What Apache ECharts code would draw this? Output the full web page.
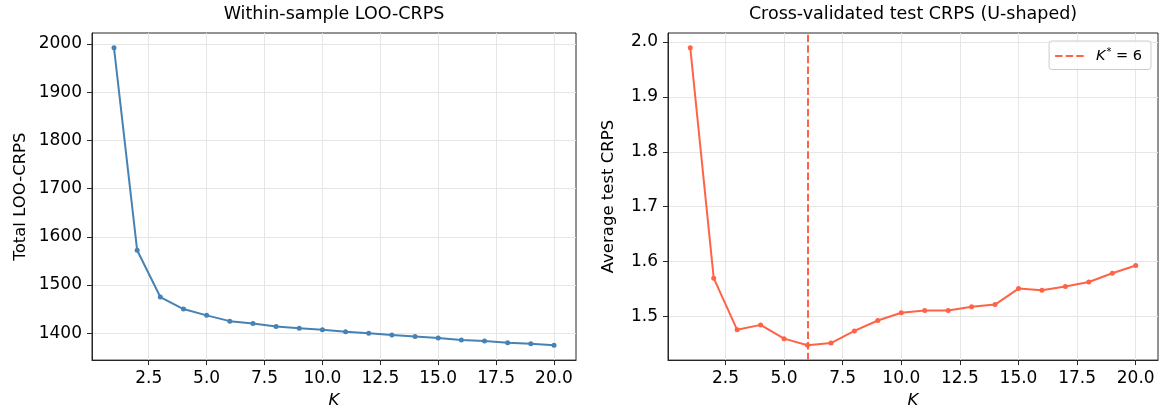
<!DOCTYPE html>
<html>
<head>
<meta charset="utf-8">
<script src="https://cdn.jsdelivr.net/npm/echarts@6/dist/echarts.min.js"></script>
<style>
  html, body { margin: 0; padding: 0; background: #fff; }
  #chart { width: 1161px; height: 414px; }
</style>
</head>
<body>
<div id="chart"></div>
<script>
// Number of components K
const kValues = [1, 2, 3, 4, 5, 6, 7, 8, 9, 10, 11, 12, 13, 14, 15, 16, 17, 18, 19, 20];
// Total leave-one-out CRPS on the training sample
const looCrps = [1992, 1572, 1475, 1450, 1437, 1425, 1420, 1414, 1410, 1407,
                 1403, 1400, 1396, 1393, 1390, 1386, 1384, 1380, 1378, 1375];
// Average cross-validated test CRPS
const testCrps = [1.989, 1.570, 1.476, 1.485, 1.460, 1.448, 1.452, 1.474, 1.493, 1.507,
                  1.511, 1.511, 1.518, 1.522, 1.551, 1.548, 1.555, 1.563, 1.579, 1.593];
// Selected K (minimum of the test CRPS)
const kStar = 6;

// Tick positions
const kTicks = [2.5, 5.0, 7.5, 10.0, 12.5, 15.0, 17.5, 20.0];
const looTicks = [1400, 1500, 1600, 1700, 1800, 1900, 2000];
const testTicks = [1.5, 1.6, 1.7, 1.8, 1.9, 2.0];

const FONT = 'DejaVu Sans';
const BLUE = '#4682B4';
const RED = '#FF6347';
const SPINE = '#262626';
const GRIDLINE = '#e6e6e6';
const TICK_FONT = 17;

// Axis limits padded by 5% of the data span on each side
function padded(values) {
  const lo = Math.min(...values), hi = Math.max(...values);
  const pad = (hi - lo) * 0.05;
  return [lo - pad, hi + pad];
}
const kRange = padded(kValues);
const looRange = padded(looCrps);
const testRange = padded(testCrps);

function xAxisFor(gridIndex) {
  return {
    type: 'value',
    gridIndex: gridIndex,
    min: kRange[0],
    max: kRange[1],
    name: 'K',
    nameLocation: 'middle',
    nameGap: 29,
    nameTextStyle: { fontFamily: FONT, fontSize: 16.5, fontStyle: 'italic', color: '#000' },
    axisLine: { show: true, onZero: false, lineStyle: { color: SPINE, width: 1 } },
    axisTick: { show: true, length: 5, lineStyle: { color: SPINE }, customValues: kTicks },
    axisLabel: {
      customValues: kTicks,
      margin: 10,
      fontFamily: FONT, fontSize: TICK_FONT, color: '#000',
      formatter: v => Number(v).toFixed(1)
    },
    splitLine: { show: true, lineStyle: { color: GRIDLINE, width: 1 } }
  };
}

function yAxisFor(gridIndex, range, ticks, name, gap, digits) {
  return {
    type: 'value',
    gridIndex: gridIndex,
    min: range[0],
    max: range[1],
    name: name,
    nameLocation: 'middle',
    nameGap: gap,
    nameTextStyle: { fontFamily: FONT, fontSize: 16.5, color: '#000' },
    axisLine: { show: true, onZero: false, lineStyle: { color: SPINE, width: 1 } },
    axisTick: { show: true, length: 5, lineStyle: { color: SPINE }, customValues: ticks },
    axisLabel: {
      customValues: ticks,
      margin: 10,
      fontFamily: FONT, fontSize: TICK_FONT, color: '#000',
      formatter: v => Number(v).toFixed(digits)
    },
    splitLine: { show: true, lineStyle: { color: GRIDLINE, width: 1 } }
  };
}

const chart = echarts.init(document.getElementById('chart'), null, { renderer: 'canvas' });

chart.setOption({
  animation: false,
  backgroundColor: '#fff',
  title: [
    {
      text: 'Within-sample LOO-CRPS',
      left: 334, top: 5, textAlign: 'center', padding: 0,
      textStyle: { fontFamily: FONT, fontSize: 17.5, fontWeight: 'normal', color: '#000' }
    },
    {
      text: 'Cross-validated test CRPS (U-shaped)',
      left: 913, top: 5, textAlign: 'center', padding: 0,
      textStyle: { fontFamily: FONT, fontSize: 17.5, fontWeight: 'normal', color: '#000' }
    }
  ],
  grid: [
    { left: 92, top: 33, width: 484, height: 334, show: true, borderColor: SPINE, borderWidth: 1, backgroundColor: 'transparent' },
    { left: 668, top: 33, width: 490, height: 334, show: true, borderColor: SPINE, borderWidth: 1, backgroundColor: 'transparent' }
  ],
  xAxis: [xAxisFor(0), xAxisFor(1)],
  yAxis: [
    yAxisFor(0, looRange, looTicks, 'Total LOO-CRPS', 63, 0),
    yAxisFor(1, testRange, testTicks, 'Average test CRPS', 51, 1)
  ],
  legend: {
    data: [{ name: 'kstar', icon: 'path://M0,0h7.4v2h-7.4z M10.6,0h7.4v2h-7.4z M21.2,0h7.4v2h-7.4z' }],
    right: 10,
    top: 41,
    orient: 'vertical',
    itemWidth: 29,
    itemHeight: 2,
    padding: [6, 9, 6, 6],
    borderColor: '#cccccc',
    borderWidth: 1,
    borderRadius: 3,
    backgroundColor: 'rgba(255,255,255,0.8)',
    selectedMode: false,
    formatter: () => '{k|K}{s|*}{t| = ' + kStar + '}',
    textStyle: {
      padding: [0, 0, 0, 7],
      rich: {
        k: { fontFamily: FONT, fontSize: 14.5, fontStyle: 'italic', color: '#000' },
        s: { fontFamily: FONT, fontSize: 10, color: '#000', verticalAlign: 'top', padding: [0, 0, 8, 1] },
        t: { fontFamily: FONT, fontSize: 14.5, color: '#000' }
      }
    }
  },
  series: [
    {
      type: 'line',
      xAxisIndex: 0, yAxisIndex: 0,
      data: kValues.map((k, i) => [k, looCrps[i]]),
      symbol: 'circle', symbolSize: 5,
      lineStyle: { color: BLUE, width: 2 },
      itemStyle: { color: BLUE },
      silent: true
    },
    {
      type: 'line',
      xAxisIndex: 1, yAxisIndex: 1,
      data: kValues.map((k, i) => [k, testCrps[i]]),
      symbol: 'circle', symbolSize: 5,
      lineStyle: { color: RED, width: 2 },
      itemStyle: { color: RED },
      silent: true
    },
    {
      name: 'kstar',
      type: 'line',
      xAxisIndex: 1, yAxisIndex: 1,
      data: [],
      itemStyle: { color: RED },
      lineStyle: { color: RED },
      markLine: {
        silent: true,
        symbol: 'none',
        label: { show: false },
        lineStyle: { color: RED, width: 2, type: [7.4, 3.2] },
        data: [{ xAxis: kStar }]
      }
    }
  ]
});
</script>
</body>
</html>
